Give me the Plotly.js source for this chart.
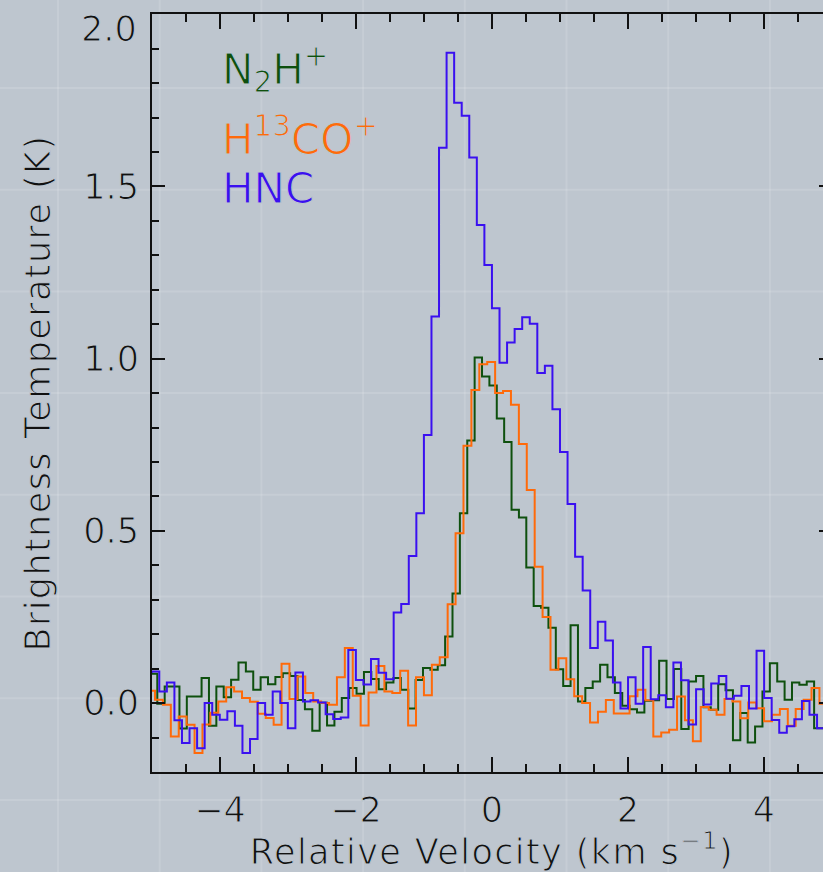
<!DOCTYPE html>
<html>
<head>
<meta charset="utf-8">
<script src="https://cdn.plot.ly/plotly-3.0.1.min.js"></script>
<style>
html,body{margin:0;padding:0;overflow:hidden;background:#bec6cf;}
#chart{width:900px;height:872px;}
#chart svg text{stroke:#bec6cf;stroke-width:1.1px;}
#chart text.xtitle, #chart text.ytitle{letter-spacing:1.4px;}
</style>
</head>
<body>
<div id="chart"></div>
<script>
// ---- Data (brightness temperature in K per velocity channel) ----
const speciesNames = ["N<sub>2</sub>H<sup>+</sup>", "H<sup>13</sup>CO<sup>+</sup>", "HNC"];

// N2H+ : first channel centre (km/s) and channel width (km/s)
const n2hStart = -5.0849;
const n2hWidth = 0.10853;
const n2hTemp = [
 0.085, 0.085, -0.002, 0.048, 0.048, -0.074, 0.019, 0.019, 0.073, -0.066,
 0.048, 0.017, 0.068, 0.118, 0.092, 0.039, 0.075, 0.055, 0.076, 0.087,
 0.079, 0.009, -0.018, -0.080, 0.001, -0.065, -0.025, 0.015, 0.044, 0.027,
 0.090, 0.070, 0.040, 0.060, 0.073, 0.039, -0.016, 0.067, 0.102, 0.097,
 0.110, 0.193, 0.318, 0.551, 0.762, 1.003, 0.948, 0.922, 0.826, 0.758,
 0.561, 0.539, 0.394, 0.282, 0.277, 0.219, 0.098, 0.050, 0.226, 0.005,
 0.044, 0.063, 0.111, 0.075, 0.029, -0.008, -0.018, -0.027, 0.007, 0.008,
 0.123, 0.012, 0.099, -0.075, 0.063, 0.079, -0.012, -0.019, 0.055, 0.037,
 -0.108, -0.029, -0.114, -0.068, 0.034, 0.116, 0.063, 0.010, 0.060, 0.053,
 0.063, -0.073, -0.073, -0.050
];

// H13CO+
const h13coStart = -5.0140;
const h13coWidth = 0.11632;
const h13coTemp = [
 0.036, 0.010, -0.005, -0.097, -0.039, -0.063, -0.145, -0.062, -0.028, 0.005,
 0.046, 0.034, 0.015, 0.004, -0.031, -0.043, -0.063, 0.114, 0.012, 0.077,
 0.029, 0.005, 0.000, -0.005, 0.075, 0.160, 0.021, -0.065, 0.031, 0.108,
 0.034, 0.029, 0.094, -0.065, 0.075, 0.023, 0.111, 0.133, 0.287, 0.493,
 0.747, 0.909, 0.984, 0.990, 0.900, 0.906, 0.866, 0.752, 0.619, 0.396,
 0.250, 0.097, 0.130, 0.069, 0.020, 0.000, -0.056, -0.025, 0.009, -0.030,
 -0.030, 0.020, 0.039, 0.008, -0.097, -0.085, -0.077, 0.019, -0.050, -0.111,
 -0.011, -0.019, -0.034, 0.012, 0.005, -0.044, 0.002, -0.015, -0.053, -0.034,
 -0.017, -0.066, -0.017, 0.010, 0.044, -0.002, -0.010, -0.010
];

// HNC
const hncStart = -5.0594;
const hncWidth = 0.11118;
const hncTemp = [
 0.090, 0.092, 0.034, 0.060, -0.050, -0.116, -0.073, -0.131, 0.000, -0.034,
 -0.048, -0.024, -0.066, -0.145, -0.104, 0.000, -0.034, 0.034, 0.000, -0.073,
 0.089, 0.005, 0.008, 0.002, -0.032, -0.046, -0.042, 0.154, 0.067, 0.054,
 0.128, 0.088, 0.069, 0.263, 0.288, 0.427, 0.551, 0.778, 1.122, 1.612,
 1.888, 1.743, 1.705, 1.584, 1.388, 1.272, 1.146, 0.988, 1.047, 1.086,
 1.120, 1.101, 0.958, 0.979, 0.853, 0.729, 0.578, 0.425, 0.327, 0.160,
 0.236, 0.182, 0.060, -0.016, 0.075, -0.002, 0.163, 0.011, 0.023, -0.012,
 0.118, 0.066, -0.062, 0.040, -0.004, 0.057, 0.079, 0.013, 0.021, 0.050,
 -0.016, 0.152, 0.015, -0.049, -0.086, -0.067, -0.047, 0.006, -0.034, -0.073,
 -0.050, -0.040
];

const xTickVals = [-4, -2, 0, 2, 4];
const yTickVals = [0.0, 0.5, 1.0, 1.5, 2.0];
const yTickText = ["0.0", "0.5", "1.0", "1.5", ""];   // top label drawn just below the frame
const yTopLabel = "2.0";

// ---- Styles ----
const colN2H = "#0e500e";
const colH13 = "#ff6a0a";
const colHNC = "#3a10f0";
const bg = "#bec6cf";
const FONT = "DejaVu Sans, sans-serif";

function channelAxis(start, width, n) {
  const v = [];
  for (let i = 0; i < n; i++) v.push(start + i * width);
  return v;
}

function spectrum(name, start, width, temps, color) {
  return {
    type: "scatter", mode: "lines", name: name,
    x: channelAxis(start, width, temps.length), y: temps,
    line: {shape: "hvh", color: color, width: 2},
    hoverinfo: "skip"
  };
}

const traces = [
  spectrum(speciesNames[0], n2hStart, n2hWidth, n2hTemp, colN2H),
  spectrum(speciesNames[1], h13coStart, h13coWidth, h13coTemp, colH13),
  spectrum(speciesNames[2], hncStart, hncWidth, hncTemp, colHNC)
];

// faint background pattern lines (page decoration)
const L = 152, R = 68, T = 14, B = 100, W = 900, H = 872;
const pw = W - L - R, ph = H - T - B;
const shapes = [];
for (let px = 58; px < W; px += 101.7) {
  const xp = (px - L) / pw;
  shapes.push({type: "line", xref: "paper", yref: "paper", x0: xp, x1: xp,
    y0: (H - T) / ph + 0.05, y1: -B / ph - 0.05, layer: "below",
    line: {color: "rgba(255,255,255,0.13)", width: 2}});
}
for (let py = 88; py < H; py += 101.7) {
  const yp = (H - B - py) / ph;
  shapes.push({type: "line", xref: "paper", yref: "paper", y0: yp, y1: yp,
    x0: -L / pw - 0.05, x1: (W - L) / pw + 0.05, layer: "below",
    line: {color: "rgba(255,255,255,0.13)", width: 2}});
}

const legendY = [69, 136, 189];
const legendCols = [colN2H, colH13, colHNC];
const annotations = speciesNames.map((s, i) => ({
  xref: "paper", yref: "paper", x: (220 - L) / pw, y: (H - B - legendY[i]) / ph,
  xanchor: "left", yanchor: "middle", showarrow: false, text: s,
  font: {family: FONT, size: 42, color: legendCols[i]}
}));
annotations.push({
  xref: "paper", yref: "paper", x: (139 - L) / pw, y: (H - B - 29) / ph,
  xanchor: "right", yanchor: "middle", showarrow: false, text: yTopLabel,
  font: {family: FONT, size: 35, color: "#111"}
});

const layout = {
  width: W, height: H,
  margin: {l: L, r: R, t: T, b: B, pad: 0},
  paper_bgcolor: bg, plot_bgcolor: "rgba(0,0,0,0)",
  showlegend: false,
  font: {family: FONT, size: 35, color: "#111"},
  xaxis: {
    range: [-5, 5], tickvals: xTickVals, ticks: "inside", ticklen: 15, tickwidth: 2,
    tickcolor: "#111", showline: true, linecolor: "#111", linewidth: 2, mirror: "ticks",
    showgrid: false, zeroline: false, ticklabelstandoff: 6,
    minor: {dtick: 0.5, ticks: "inside", ticklen: 8, tickwidth: 2, tickcolor: "#111", showgrid: false},
    tickfont: {family: FONT, size: 35, color: "#111"},
    title: {text: "Relative Velocity (km s<sup>\u22121</sup>)", standoff: 11,
            font: {family: FONT, size: 35, color: "#111"}}
  },
  yaxis: {
    range: [-0.2, 2.0005], tickvals: yTickVals, ticktext: yTickText, ticks: "inside", ticklen: 13,
    tickwidth: 2, tickcolor: "#111", showline: true, linecolor: "#111", linewidth: 2,
    mirror: "ticks", showgrid: false, zeroline: false, ticklabelstandoff: 4,
    minor: {dtick: 0.1, ticks: "inside", ticklen: 7, tickwidth: 2, tickcolor: "#111", showgrid: false},
    tickfont: {family: FONT, size: 35, color: "#111"},
    title: {text: "Brightness Temperature (K)", standoff: 22,
            font: {family: FONT, size: 35, color: "#111"}}
  },
  shapes: shapes,
  annotations: annotations
};

Plotly.newPlot("chart", traces, layout, {displayModeBar: false, staticPlot: true});
</script>
</body>
</html>
